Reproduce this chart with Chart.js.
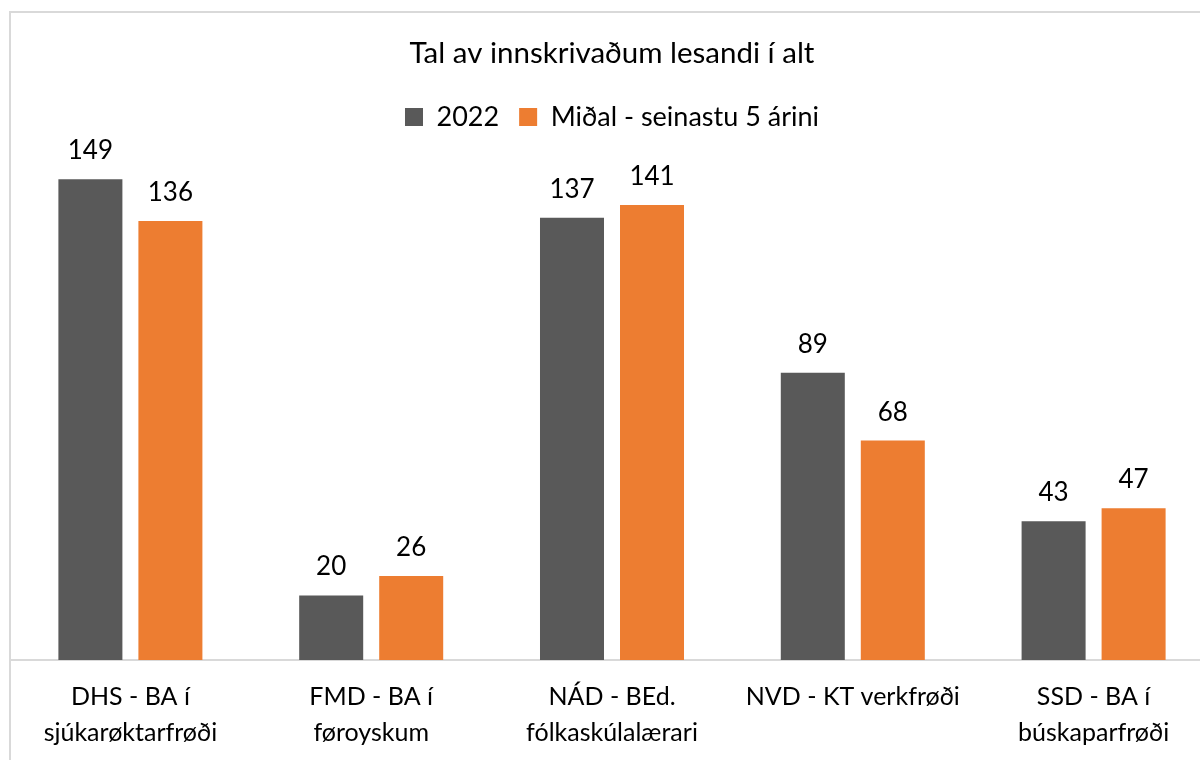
<!DOCTYPE html>
<html>
<head>
<meta charset="utf-8">
<script src="https://cdn.jsdelivr.net/npm/chart.js@4.4.1/dist/chart.umd.min.js"></script>
<style>
  html, body { margin: 0; padding: 0; background: #fff; overflow: hidden; width: 1200px; height: 760px; }
  #frame { position: absolute; left: 9px; top: 11px; width: 1220px; height: 800px; border: 2px solid #d9d9d9; box-sizing: border-box; }
  #wrap { position: absolute; left: -1px; top: 0; width: 1209px; height: 796px; }
</style>
</head>
<body>
<div id="frame"><div id="wrap"><canvas id="chart"></canvas></div></div>
<script>
// data
var categories = [
  ["DHS - BA í", "sjúkarøktarfrøði"],
  ["FMD - BA í", "føroyskum"],
  ["NÁD - BEd.", "fólkaskúlalærari"],
  ["NVD - KT verkfrøði"],
  ["SSD - BA í", "búskaparfrøði"]
];
var seriesNames = ["2022", "Miðal - seinastu 5 árini"];
var values2022 = [149, 20, 137, 89, 43];
var valuesMidal = [136, 26, 141, 68, 47];

var FONT = "Lato, 'Open Sans', sans-serif";

// tekstur yvir súlurnar
var valueLabels = {
  id: "valueLabels",
  afterDatasetsDraw: function (chart) {
    var ctx = chart.ctx;
    ctx.save();
    ctx.font = "26px " + FONT;
    ctx.fillStyle = "#000";
    ctx.textAlign = "center";
    ctx.textBaseline = "alphabetic";
    chart.data.datasets.forEach(function (ds, i) {
      chart.getDatasetMeta(i).data.forEach(function (bar, j) {
        ctx.fillText(ds.data[j], bar.x, bar.y - 20);
      });
    });
    ctx.restore();
  }
};

new Chart(document.getElementById("chart"), {
  type: "bar",
  data: {
    labels: categories,
    datasets: [
      { label: seriesNames[0], data: values2022, backgroundColor: "#595959", barPercentage: 0.8, categoryPercentage: 0.6645 },
      { label: seriesNames[1], data: valuesMidal, backgroundColor: "#ED7D31", barPercentage: 0.8, categoryPercentage: 0.6645 }
    ]
  },
  options: {
    responsive: true,
    maintainAspectRatio: false,
    animation: false,
    layout: { padding: { left: 0, right: 5, top: 16, bottom: 39 } },
    plugins: {
      title: {
        display: true,
        text: "Tal av innskrivaðum lesandi í alt",
        color: "#000",
        font: { family: FONT, size: 29.5, weight: "normal" },
        padding: { top: 7, bottom: 12 }
      },
      legend: {
        display: true,
        labels: {
          color: "#000",
          font: { family: FONT, size: 27 },
          boxWidth: 18,
          boxHeight: 18,
          padding: 20
        }
      },
      tooltip: { enabled: false }
    },
    scales: {
      x: {
        grid: { display: false, drawTicks: false },
        border: { display: true, color: "#d9d9d9", width: 2 },
        ticks: {
          color: "#000",
          font: { family: FONT, size: 25, lineHeight: 1.44 },
          padding: 19,
          maxRotation: 0,
          autoSkip: false
        }
      },
      y: {
        display: false,
        min: 0,
        max: 161
      }
    }
  },
  plugins: [valueLabels]
});
</script>
</body>
</html>
